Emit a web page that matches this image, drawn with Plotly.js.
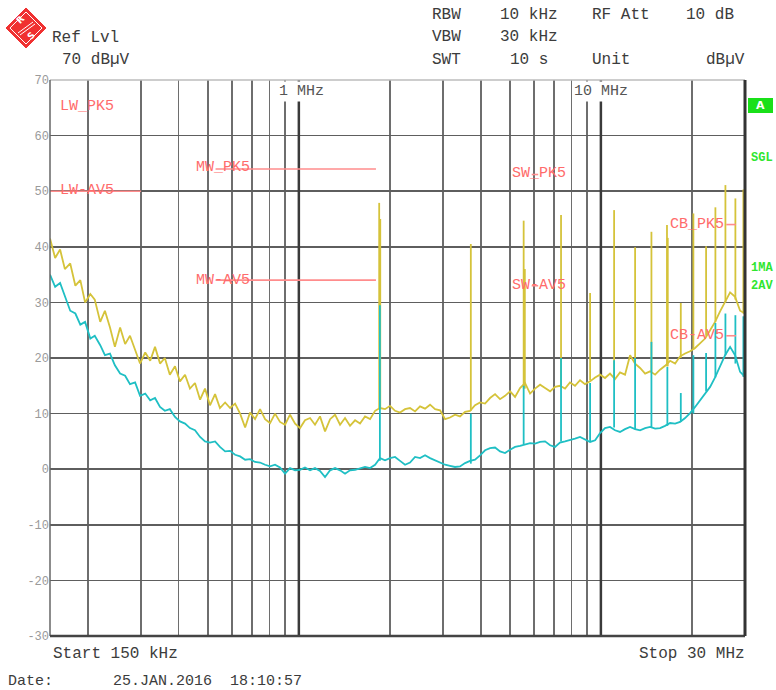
<!DOCTYPE html>
<html>
<head>
<meta charset="utf-8">
<script src="https://cdn.plot.ly/plotly-3.0.1.min.js"></script>
<style>
html,body{margin:0;padding:0;background:#fff;}
#chart{width:776px;height:690px;}
</style>
</head>
<body>
<div id="chart"></div>
<script>
// Sweep frequencies (MHz)
const freqMHz = [
 0.150,0.156,0.162,0.168,0.175,0.182,0.189,0.196,0.204,0.211,
 0.220,0.228,0.237,0.246,0.256,0.266,0.276,0.287,0.298,0.310,
 0.322,0.334,0.347,0.360,0.374,0.389,0.404,0.420,0.436,0.453,
 0.471,0.489,0.508,0.528,0.548,0.570,0.592,0.615,0.639,0.664,
 0.689,0.716,0.744,0.773,0.803,0.834,0.866,0.900,0.935,0.972,
 1.009,1.048,1.089,1.131,1.175,1.221,1.269,1.318,1.369,1.422,
 1.477,1.535,1.594,1.656,1.721,1.788,1.857,1.929,2.004,2.082,
 2.163,2.247,2.334,2.425,2.519,2.617,2.719,2.825,2.935,3.049,
 3.166,3.289,3.417,3.550,3.688,3.831,3.981,4.135,4.296,4.463,
 4.636,4.816,5.003,5.197,5.399,5.609,5.828,6.054,6.290,6.534,
 6.79,7.05,7.32,7.61,7.90,8.21,8.53,8.86,9.21,9.57,
 9.94,10.32,10.72,11.14,11.57,12.02,12.49,12.98,13.48,14.01,
 14.55,15.12,15.70,16.31,16.95,17.61,18.29,19.00,19.74,20.51,
 21.30,22.13,22.99,23.88,24.81,25.78,26.78,27.82,28.90,30.00
];
// Trace 1: peak detector (dBµV)
const pkLevel = [
 41.5,38.0,39.5,36.0,37.0,33.0,34.0,30.0,31.5,30.5,
 26.5,28.5,25.5,22.0,25.5,22.5,24.0,21.5,19.0,21.0,
 19.5,22.0,19.0,20.0,17.0,18.5,15.8,17.0,14.5,15.5,
 12.5,14.5,11.5,13.5,11.0,12.0,11.0,11.8,10.0,7.5,
 10.2,9.0,10.8,9.0,8.3,10.0,8.5,8.0,9.8,8.2,
 7.4,8.8,9.2,8.0,9.5,6.8,9.0,9.8,8.0,9.2,
 7.8,8.8,8.2,9.5,9.0,10.5,11.0,10.8,11.4,10.5,
 10.2,10.8,11.0,10.4,11.3,10.9,11.6,10.8,10.6,9.0,
 9.3,9.8,9.5,10.3,10.5,11.5,12.0,11.8,12.8,13.5,
 12.6,13.2,14.0,13.0,14.6,15.5,13.6,14.5,15.2,14.6,
 14.0,14.8,15.0,14.5,15.6,15.0,16.0,15.3,15.8,16.5,
 17.0,16.4,17.2,16.2,17.4,17.0,20.5,19.0,18.2,17.2,
 17.6,17.0,17.9,18.6,19.5,19.0,20.3,20.8,21.2,21.8,
 22.7,23.5,25.0,26.5,28.4,30.0,31.8,31.0,28.5,28.0
];
// Trace 2: average detector (dBµV)
const avLevel = [
 35.0,32.8,33.5,31.0,28.5,28.0,26.0,26.5,23.5,24.0,
 22.3,20.5,20.8,18.7,17.2,16.8,15.3,15.6,13.2,13.6,
 12.4,12.8,11.2,10.5,10.8,9.4,8.6,8.2,7.4,7.0,
 5.8,5.0,4.8,5.0,4.0,3.2,3.3,2.6,2.3,1.7,
 1.8,1.3,1.2,0.8,0.5,0.8,0.3,-0.8,0.2,-0.2,
 -0.1,0.3,-0.2,0.2,-0.3,-1.4,-0.2,0.2,-0.2,-0.8,
 -0.2,-0.1,0.2,0.4,0.2,0.8,2.0,1.6,2.0,2.2,
 1.5,0.8,1.2,2.2,2.0,2.5,2.0,1.6,1.2,0.8,
 0.6,0.4,0.5,1.1,1.5,1.7,2.5,3.4,3.8,3.9,
 3.2,2.9,3.5,4.0,4.2,4.5,4.7,4.6,4.9,5.0,
 4.3,4.0,4.8,5.0,5.2,5.5,5.8,5.4,4.9,5.2,
 6.5,7.4,7.6,7.0,6.7,7.2,7.6,7.2,7.0,7.4,
 7.6,7.3,7.4,7.8,8.3,8.2,8.5,9.2,10.1,11.2,
 12.4,13.5,14.8,16.5,18.4,20.5,22.0,20.5,17.5,16.6
];
// Narrow-band spikes (MHz, dBµV)
const pkSpikeF    = [1.845,1.86,3.71,5.55,5.60,7.38,9.21,11.06,12.98,14.70,16.55,16.65,18.39,20.24,22.3,23.94,25.84,27.88,29.63];
const pkSpikeTop  = [47.9,45.0,40.5,44.7,36.0,45.7,31.7,46.6,39.9,42.7,43.9,41.6,29.9,46.0,40.1,47.1,51.1,48.7,50.3];
const pkSpikeBase = [11.0,11.0,10.5,14.5,14.5,15.0,16.0,16.5,19.0,17.5,18.5,18.5,20.0,21.5,24.0,26.5,30.0,30.5,28.0];
const avSpikeF    = [1.855,3.71,5.55,7.38,9.21,11.06,12.98,14.70,16.6,18.39,20.24,22.3,23.94,25.84,27.88,29.63];
const avSpikeTop  = [29.5,10.0,15.0,20.0,15.5,19.6,20.0,22.9,18.4,13.7,20.5,20.9,26.3,28.0,27.7,27.5];
const avSpikeBase = [1.5,1.0,4.5,5.0,5.0,7.5,7.2,7.4,7.8,8.5,10.0,14.0,16.5,20.5,19.0,16.6];
// Limit lines (CISPR 25 class 5)
const limitNames = ["LW-AV5","MW_PK5","MW-AV5","SW_PK5","SW-AV5","CB_PK5","CB-AV5"];
const limitStart = [0.15,0.53,0.53,5.9,5.9,26.0,26.0];
const limitStop  = [0.30,1.8,1.8,6.2,6.2,28.0,28.0];
const limitLevel = [50,54,34,53,33,44,24];
// Limit labels
const labelText  = ["LW_PK5","LW-AV5","MW_PK5","MW-AV5","SW_PK5","SW-AV5","CB_PK5","CB-AV5"];
const labelLevel = [65.2,50.2,54.2,34.0,53.1,33.1,44.1,24.1];
const labelPx    = [58,58,194,194,510,510,668,668];
// Frequency grid
const gridFreq = [0.2,0.3,0.4,0.5,0.6,0.7,0.8,0.9,1,2,3,4,5,6,7,8,9,10,20];
const majorFreq = [1,10];
const yTicks = [-30,-20,-10,0,10,20,30,40,50,60,70];

const YEL = '#d5c33a', CYA = '#1fbfc4', RED = '#ff6b6b', LIM = '#ff8c8c';
const MONO = 'Liberation Mono, Courier New, monospace';

function segs(fs, a, b){
  const x=[], y=[];
  fs.forEach((f,i)=>{ x.push(f,f,null); y.push(a[i],b[i],null); });
  return {x,y};
}
const pkS = segs(pkSpikeF, pkSpikeBase, pkSpikeTop);
const avS = segs(avSpikeF, avSpikeBase, avSpikeTop);
const limX=[], limY=[];
limitStart.forEach((s,i)=>{ limX.push(s, limitStop[i], null); limY.push(limitLevel[i], limitLevel[i], null); });
const majX=[], majY=[];
majorFreq.forEach(f=>{ majX.push(f,f,null); majY.push(-30,70,null); });

const traces = [
  {x:majX, y:majY, mode:'lines', line:{color:'#3a3a3a', width:2.5}, hoverinfo:'skip', showlegend:false},
  {x:freqMHz, y:pkLevel, mode:'lines', line:{color:YEL, width:1.8}, hoverinfo:'skip', showlegend:false},
  {x:pkS.x, y:pkS.y, mode:'lines', line:{color:YEL, width:1.8}, hoverinfo:'skip', showlegend:false},
  {x:freqMHz, y:avLevel, mode:'lines', line:{color:CYA, width:1.8}, hoverinfo:'skip', showlegend:false},
  {x:avS.x, y:avS.y, mode:'lines', line:{color:CYA, width:1.8}, hoverinfo:'skip', showlegend:false},
  {x:limX, y:limY, mode:'lines', line:{color:LIM, width:1.6}, hoverinfo:'skip', showlegend:false}
];

const L=50, R=745, T=80, B=636;
const px = v => (v-L)/(R-L);
const py = v => (B-v)/(B-T);

const ann = [];
function txt(t, x, y, opts){
  ann.push(Object.assign({text:t, xref:'paper', yref:'paper', x:px(x), y:py(y), xanchor:'left', yanchor:'middle',
    showarrow:false, font:{family:MONO, size:16, color:'#3c3c3c'}}, opts||{}));
}
txt('Ref Lvl', 50, 38);
txt('70 dBµV', 60, 60);
txt('RBW', 430, 15);
txt('10 kHz', 498, 15);
txt('RF Att', 590, 15);
txt('10 dB', 736, 15, {xanchor:'right'});
txt('VBW', 430, 37);
txt('30 kHz', 498, 37);
txt('SWT', 430, 60);
txt('10 s', 508, 60);
txt('Unit', 590, 60);
txt('dBµV', 747, 60, {xanchor:'right'});
txt('Start 150 kHz', 51, 654);
txt('Stop 30 MHz', 747, 654, {xanchor:'right'});
txt('Date:', 6, 681, {font:{family:MONO, size:15, color:'#3c3c3c'}});
txt('25.JAN.2016  18:10:57', 111, 681, {font:{family:MONO, size:15, color:'#3c3c3c'}});
txt('1 MHz', 277, 92, {bgcolor:'#ffffff', font:{family:MONO, size:15, color:'#555'}});
txt('10 MHz', 572, 92, {bgcolor:'#ffffff', font:{family:MONO, size:15, color:'#555'}});
labelText.forEach((t,i)=>{
  ann.push({text:t, xref:'paper', yref:'y', x:px(labelPx[i]), y:labelLevel[i], xanchor:'left', yanchor:'middle',
    showarrow:false, font:{family:MONO, size:15, color:RED}});
});
txt('<b>A</b>', 760.5, 105.5, {xanchor:'center', font:{family:'DejaVu Sans', size:11, color:'#ffffff'}});
txt('<b>SGL</b>', 749, 158, {font:{family:MONO, size:12, color:'#2fe62f'}});
txt('<b>1MA</b>', 749, 268, {font:{family:MONO, size:12, color:'#2fe62f'}});
txt('<b>2AV</b>', 749, 286, {font:{family:MONO, size:12, color:'#2fe62f'}});
// logo letters
txt('<b>R</b>', 20, 20, {xanchor:'center', textangle:-45, font:{family:'DejaVu Sans', size:9, color:'#ffffff'}});
txt('<b>S</b>', 31, 36, {xanchor:'center', textangle:-45, font:{family:'DejaVu Sans', size:9, color:'#ffffff'}});

const P = (x,y)=> px(x).toFixed(4)+','+py(y).toFixed(4);
const shapes = [
  // frame
  {type:'line', xref:'paper', yref:'paper', x0:0, x1:1, y0:1, y1:1, line:{color:'#bdbdbd', width:1.5}, layer:'above'},
  {type:'line', xref:'paper', yref:'paper', x0:0, x1:0, y0:0, y1:1, line:{color:'#666', width:1.5}, layer:'above'},
  {type:'line', xref:'paper', yref:'paper', x0:0, x1:1, y0:0, y1:0, line:{color:'#444', width:2.5}, layer:'above'},
  {type:'line', xref:'paper', yref:'paper', x0:1, x1:1, y0:0, y1:1, line:{color:'#333', width:3}, layer:'above'},
  // green A box
  {type:'rect', xref:'paper', yref:'paper', x0:px(748), x1:px(773), y0:py(113), y1:py(98), fillcolor:'#19e019', line:{width:0}},
  // logo
  {type:'path', xref:'paper', yref:'paper', path:'M'+P(26,8)+' L'+P(46,28)+' L'+P(26,48)+' L'+P(6,28)+' Z', fillcolor:'#f03030', line:{color:'#f03030', width:1}},
  {type:'path', xref:'paper', yref:'paper', path:'M'+P(26,12)+' L'+P(42,28)+' L'+P(26,44)+' L'+P(10,28)+' Z', fillcolor:'rgba(0,0,0,0)', line:{color:'#ffffff', width:1}},
  {type:'line', xref:'paper', yref:'paper', x0:px(18), y0:py(33), x1:px(33), y1:py(22), line:{color:'#ffffff', width:1}},
  {type:'line', xref:'paper', yref:'paper', x0:px(20), y0:py(35), x1:px(35), y1:py(24), line:{color:'#ffffff', width:1}}
];

const layout = {
  width:776, height:690,
  margin:{l:L, r:776-R, t:T, b:690-B, pad:0},
  paper_bgcolor:'#ffffff', plot_bgcolor:'#ffffff',
  showlegend:false,
  xaxis:{type:'log', range:[Math.log10(0.15), Math.log10(30)], tickvals:gridFreq, showticklabels:false,
    ticks:'', showgrid:true, gridcolor:'#6e6e6e', gridwidth:1.6, zeroline:false, showline:false, fixedrange:true},
  yaxis:{range:[-30,70], tickvals:yTicks, ticktext:yTicks.map(String), ticks:'', showgrid:true, gridcolor:'#5e5e5e',
    gridwidth:1.6, zeroline:false, showline:false, fixedrange:true,
    tickfont:{family:MONO, size:12, color:'#9a9a9a'}},
  annotations:ann,
  shapes:shapes
};
Plotly.newPlot('chart', traces, layout, {staticPlot:true, displayModeBar:false});
</script>
</body>
</html>
